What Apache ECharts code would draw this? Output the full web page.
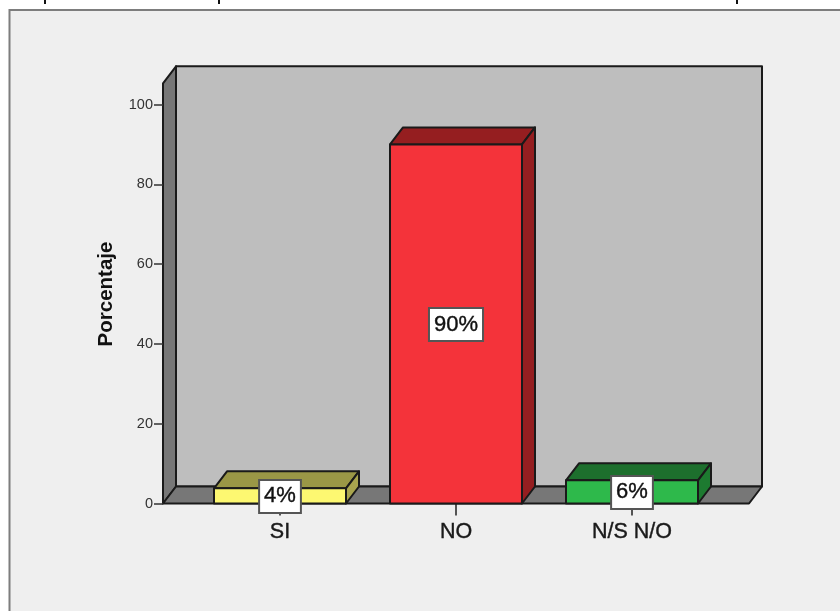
<!DOCTYPE html>
<html><head><meta charset="utf-8">
<style>html,body{margin:0;padding:0;background:#fff}#c{width:840px;height:611px}</style>
<script src="https://cdn.jsdelivr.net/npm/echarts@6/dist/echarts.min.js"></script>
</head><body><div id="c"></div>
<script>
const categories = ['SI', 'NO', 'N/S N/O'];
const values = [3.8, 90, 5.8];
const valueLabels = ['4%', '90%', '6%'];
const frontColors = ['#fdf871', '#f4333a', '#2eb94b'];
const topColors = ['#9a9746', '#951e20', '#1d6f2d'];
const sideColors = ['#a9a54e', '#951e20', '#1d7a30'];
const yTicks = [0, 20, 40, 60, 80, 100];
const axisTop = 105.3;          // top of the drawn box, in axis units

const DX = 13, DY = -17;        // 3D depth offset in pixels
const ink = '#1a1a1a';
const chart = echarts.init(document.getElementById('c'), null, {renderer: 'canvas'});
const poly = (pts, fill) => ({type: 'polygon', shape: {points: pts}, style: {fill, stroke: ink, lineWidth: 2, lineJoin: 'round'}});

function renderBox(params, api) {
  const bl = api.coord([0, 0]), top = api.coord([0, axisTop]);
  const band = api.size([1, 0])[0];
  const x0 = bl[0] - band / 2 - 29, x1 = api.coord([2, 0])[0] + band / 2 + 29;
  const y0 = bl[1], y1 = top[1];
  return {type: 'group', silent: true, children: [
    poly([[x0 + DX, y1 + DY], [x1 + DX, y1 + DY], [x1 + DX, y0 + DY], [x0 + DX, y0 + DY]], '#bebebe'),
    poly([[x0, y1], [x0 + DX, y1 + DY], [x0 + DX, y0 + DY], [x0, y0]], '#777777'),
    poly([[x0, y0], [x0 + DX, y0 + DY], [x1 + DX, y0 + DY], [x1, y0]], '#777777')
  ]};
}
function renderBar(params, api) {
  const i = api.value(0), v = api.value(1);
  const base = api.coord([i, 0]), tip = api.coord([i, v]);
  const w = api.size([1, 0])[0] * 0.75;
  const l = base[0] - w / 2, r = base[0] + w / 2, b = base[1], t = tip[1];
  return {type: 'group', children: [
    poly([[l, t], [l + DX, t + DY], [r + DX, t + DY], [r, t]], topColors[i]),
    poly([[r, t], [r + DX, t + DY], [r + DX, b + DY], [r, b]], sideColors[i]),
    poly([[l, t], [r, t], [r, b], [l, b]], frontColors[i])
  ]};
}
function renderLabel(params, api) {
  const i = api.value(0), v = api.value(1);
  const p = api.coord([i, v / 2]);
  return {type: 'text', x: p[0], y: p[1] + 0.5, z2: 100, style: {
    text: valueLabels[i], align: 'center', verticalAlign: 'middle',
    font: '500 22px "Liberation Sans"', fill: '#111',
    stroke: '#111', lineWidth: 0.4,
    backgroundColor: '#ffffff', borderColor: '#555', borderWidth: 2, padding: [5, 4, 4, 4]
  }};
}

const barData = values.map((v, i) => [i, v]);
chart.setOption({
  animation: false,
  backgroundColor: '#ffffff',
  graphic: [
    {type: 'rect', z: -10, silent: true, shape: {x: 9.5, y: 10, width: 860, height: 640},
     style: {fill: '#efefef', stroke: '#7d7d7d', lineWidth: 2}},
    {type: 'rect', silent: true, shape: {x: 44, y: 0, width: 2, height: 4}, style: {fill: '#111'}},
    {type: 'rect', silent: true, shape: {x: 218, y: 0, width: 2, height: 4}, style: {fill: '#111'}},
    {type: 'rect', silent: true, shape: {x: 736, y: 0, width: 2, height: 4}, style: {fill: '#111'}}
  ],
  grid: {left: 192, width: 528, top: 104.5, height: 399},
  xAxis: {
    type: 'category', data: categories, z: 0,
    axisLine: {show: false},
    axisTick: {show: true, alignWithLabel: true, length: 12, lineStyle: {color: '#222', width: 1.5}},
    axisLabel: {margin: 18, color: '#1a1a1a', fontFamily: 'Liberation Sans', fontSize: 21.5, fontWeight: 500, interval: 0,
      textBorderColor: '#1a1a1a', textBorderWidth: 0.4}
  },
  yAxis: {
    type: 'value', min: 0, max: 100, interval: yTicks[1] - yTicks[0], offset: 29, z: 5,
    name: 'Porcentaje', nameLocation: 'middle', nameGap: 46, nameRotate: 90,
    nameTextStyle: {color: '#111', fontFamily: 'Liberation Sans', fontSize: 20.5, fontWeight: 'bold', padding: [0, 0, 0, 20]},
    splitLine: {show: false},
    axisLine: {show: false},
    axisTick: {show: true, length: 9, lineStyle: {color: '#333', width: 1.5}},
    axisLabel: {margin: 10, color: '#333', fontFamily: 'Liberation Sans', fontSize: 14.5}
  },
  series: [
    {type: 'custom', clip: false, z: 1, silent: true, renderItem: renderBox, data: [[0, 0]], encode: {x: 0, y: 1}},
    {type: 'custom', clip: false, z: 2, renderItem: renderBar, data: barData, encode: {x: 0, y: 1}},
    {type: 'custom', clip: false, z: 3, renderItem: renderLabel, data: barData, encode: {x: 0, y: 1}}
  ]
});
</script></body></html>
